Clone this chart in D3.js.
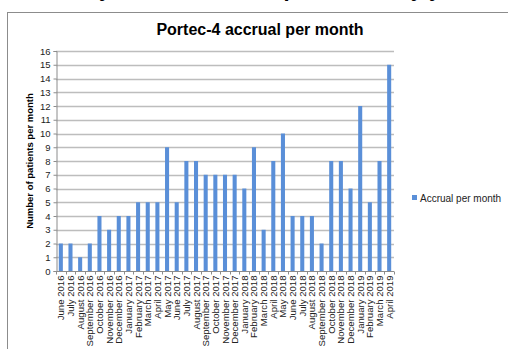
<!DOCTYPE html>
<html>
<head>
<meta charset="utf-8">
<script src="https://cdn.jsdelivr.net/npm/d3@7"></script>
<style>
  html, body { margin: 0; padding: 0; background: #fff; }
  svg { display: block; font-family: "Liberation Sans", Arial, sans-serif; }
</style>
</head>
<body>
<svg id="chart" width="508" height="349"></svg>
<script>
// Monthly accrual, June 2016 – April 2019
const months = [
  "June 2016", "July 2016", "August 2016", "September 2016", "October 2016",
  "November 2016", "December 2016", "January 2017", "February 2017", "March 2017",
  "April 2017", "May 2017", "June 2017", "July 2017", "August 2017",
  "September 2017", "October 2017", "November 2017", "December 2017", "January 2018",
  "February 2018", "March 2018", "April 2018", "May 2018", "June 2018",
  "July 2018", "August 2018", "September 2018", "October 2018", "November 2018",
  "December 2018", "January 2019", "February 2019", "March 2019", "April 2019"
];
const accrual = [
  2, 2, 1, 2, 4,
  3, 4, 4, 5, 5,
  5, 9, 5, 8, 8,
  7, 7, 7, 7, 6,
  9, 3, 8, 10, 4,
  4, 4, 2, 8, 8,
  6, 12, 5, 8, 15
];
const yTicks = d3.range(0, 17);
const seriesName = "Accrual per month";
const chartTitle = "Portec-4 accrual per month";
const yTitle = "Number of patients per month";
const slideHeading = "Study accrual, overall per month by year";

const svg = d3.select("#chart");
const barColor = "#5a8fd8";
const gridColor = "#bdbdbd";
const axisColor = "#8c8c8c";

// heading of the page above, mostly out of view
svg.append("text")
  .attr("x", 50).attr("y", -4)
  .attr("font-size", 22).attr("font-weight", "bold")
  .attr("fill", "#000")
  .text(slideHeading);

// chart frame
svg.append("rect")
  .attr("x", 7.5).attr("y", 12.5)
  .attr("width", 520).attr("height", 360)
  .attr("fill", "none").attr("stroke", axisColor).attr("stroke-width", 1);

const x = d3.scaleBand().domain(months).range([56, 394]).paddingInner(0.58).paddingOuter(0.29);
const y = d3.scaleLinear().domain([0, 16]).range([271, 51]);

// title
svg.append("text")
  .attr("x", 260).attr("y", 35)
  .attr("text-anchor", "middle")
  .attr("font-size", 16).attr("font-weight", "bold")
  .attr("fill", "#000")
  .text(chartTitle);

// horizontal gridlines
svg.append("g")
  .selectAll("line")
  .data(yTicks.filter(d => d > 0))
  .join("line")
  .attr("x1", 56).attr("x2", 394)
  .attr("y1", d => Math.round(y(d)) + 0.5).attr("y2", d => Math.round(y(d)) + 0.5)
  .attr("stroke", gridColor).attr("stroke-width", 1.3);

// bars
svg.append("g")
  .selectAll("rect")
  .data(accrual)
  .join("rect")
  .attr("x", (d, i) => x(months[i]))
  .attr("width", x.bandwidth())
  .attr("y", d => y(d))
  .attr("height", d => y(0) - y(d))
  .attr("fill", barColor);

// y axis
const yAxis = svg.append("g")
  .attr("transform", "translate(56.5,0)")
  .call(d3.axisLeft(y).tickValues(yTicks).tickSize(3).tickPadding(3));
yAxis.select(".domain").attr("stroke", axisColor);
yAxis.selectAll(".tick line").attr("stroke", axisColor);
yAxis.selectAll(".tick text").attr("font-size", 9.5).attr("fill", "#222")
  .attr("font-family", "Liberation Sans, Arial, sans-serif");

// x axis: baseline with ticks at category boundaries
const xAxisG = svg.append("g").attr("transform", "translate(0,271.5)");
xAxisG.append("line")
  .attr("x1", 56).attr("x2", 394)
  .attr("stroke", axisColor);
const step = x.step();
const edges = months.map(m => x(m) - (step - x.bandwidth()) / 2).concat([394]);
xAxisG.selectAll("line.tk")
  .data(edges)
  .join("line").attr("class", "tk")
  .attr("x1", d => Math.round(d) + 0.5)
  .attr("x2", d => Math.round(d) + 0.5)
  .attr("y1", 0).attr("y2", 3)
  .attr("stroke", axisColor);

xAxisG.selectAll("text")
  .data(months)
  .join("text")
  .attr("transform", d => `translate(${x(d) + x.bandwidth() / 2 + 3.5},4) rotate(-90)`)
  .attr("text-anchor", "end")
  .attr("font-size", 9.6)
  .attr("fill", "#222")
  .text(d => d);

// y axis title
svg.append("text")
  .attr("transform", "translate(33,161) rotate(-90)")
  .attr("text-anchor", "middle")
  .attr("font-size", 9.5).attr("font-weight", "bold")
  .attr("fill", "#000")
  .text(yTitle);

// legend
const legend = svg.append("g").attr("transform", "translate(412,198)");
legend.append("rect")
  .attr("x", 0).attr("y", -3).attr("width", 5).attr("height", 5)
  .attr("fill", barColor);
legend.append("text")
  .attr("x", 8).attr("y", 3.5)
  .attr("font-size", 10).attr("fill", "#222")
  .text(seriesName);
</script>
</body>
</html>
